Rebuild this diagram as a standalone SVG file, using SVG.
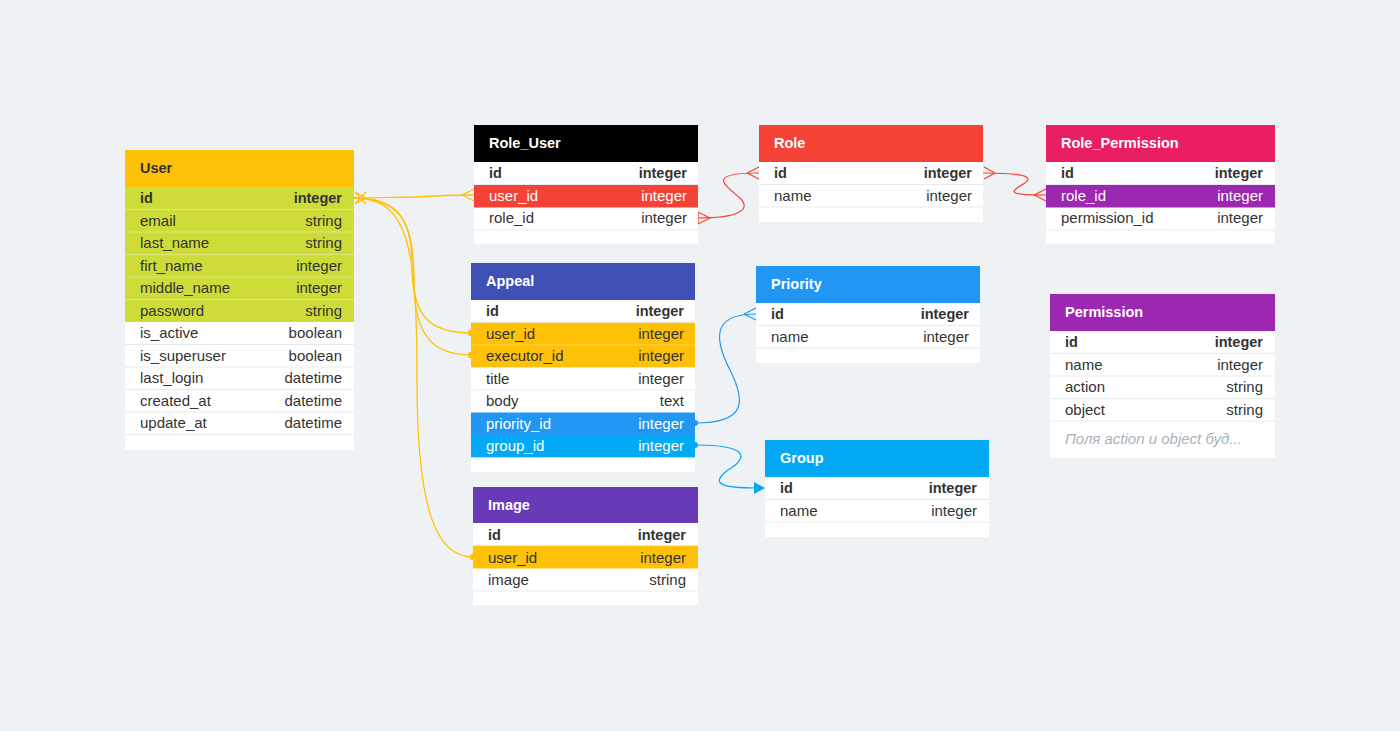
<svg xmlns="http://www.w3.org/2000/svg" width="1400" height="731" viewBox="0 0 1400 731">
<style>
text{font-family:"Liberation Sans",Arial,sans-serif;font-size:15px;fill:#333}
.t{font-weight:bold;fill:#fff;font-size:14.5px}
.b{font-weight:bold;font-size:14.5px}
.r{text-anchor:end}
.w{fill:#fff}
.sep{stroke:#e8ebee;stroke-width:1}
.note{font-style:italic;fill:#aab2bb}
.cy{fill:none;stroke:#FFC107;stroke-width:1.3}
.cr{fill:none;stroke:#F44336;stroke-width:1.2}
.cb{fill:none;stroke:#2196F3;stroke-width:1.2}
.cl{fill:none;stroke:#03A9F4;stroke-width:1.2}
</style>
<rect width="1400" height="731" fill="#eef2f5"/>

<g id="connectors">
  <path class="cy" d="M354,198 C380,198 400,197 414,197 C430,196 450,195 474,195"/>
  <path class="cy" d="M462,195 L474,189 M462,195 L474,201"/>
  <path class="cy" d="M354,198 C402,198 412,225 412,265 C412,315 428,333 471,333"/>
  <circle cx="471" cy="333" r="3.2" fill="#FFC107"/>
  <path class="cy" d="M354,198 C405,198 414,228 414,280 C414,335 432,355 471,355"/>
  <circle cx="471" cy="355" r="3.2" fill="#FFC107"/>
  <path class="cy" d="M354,198 C408,198 417,245 417,380 C417,515 438,557 473,557"/>
  <circle cx="473" cy="557" r="3.2" fill="#FFC107"/>
  <path class="cy" d="M366,198 L355,192 M366,198 L355,204 M355,192 L366,204 M355,204 L366,192"/>

  <path class="cr" d="M698,218 C738,218 752,210 740,198 C725,185 705,173 759,173"/>
  <path class="cr" d="M710,218 L698,212 M710,218 L698,224 M698,212 L698,224"/>
  <path class="cr" d="M747,173 L759,167 M747,173 L759,179"/>
  <path class="cr" d="M983,173 C1020,173 1035,176 1025,183 C1010,192 1005,195 1046,195"/>
  <path class="cr" d="M995,173 L984,167 M995,173 L984,179"/>
  <path class="cr" d="M1034,195 L1046,189 M1034,195 L1046,201"/>

  <path class="cb" d="M695,423 C748,423 745,400 730,370 C712,335 715,314 756,314"/>
  <circle cx="695" cy="423" r="3" fill="#2196F3"/>
  <path class="cb" d="M744,314 L756,308 M744,314 L756,320"/>
  <path class="cl" d="M695,445 C750,445 748,458 728,470 C708,485 725,488 756,488"/>
  <circle cx="695" cy="445" r="3" fill="#03A9F4"/>
  <path d="M754,482 L765,488 L754,494 Z" fill="#03A9F4"/>
</g>

<g id="user">
  <rect x="125" y="150" width="229" height="300" fill="#fff"/>
  <rect x="125" y="150" width="229" height="37" fill="#FFC107"/>
  <rect x="125" y="187" width="229" height="135" fill="#CDDC39"/>
  <g class="sep">
    <line x1="125" y1="209.5" x2="354" y2="209.5" stroke="#dde77a"/>
    <line x1="125" y1="232" x2="354" y2="232" stroke="#dde77a"/>
    <line x1="125" y1="254.5" x2="354" y2="254.5" stroke="#dde77a"/>
    <line x1="125" y1="277" x2="354" y2="277" stroke="#dde77a"/>
    <line x1="125" y1="299.5" x2="354" y2="299.5" stroke="#dde77a"/>
    <line x1="125" y1="344.5" x2="354" y2="344.5"/>
    <line x1="125" y1="367" x2="354" y2="367"/>
    <line x1="125" y1="389.5" x2="354" y2="389.5"/>
    <line x1="125" y1="412" x2="354" y2="412"/>
    <line x1="125" y1="434.5" x2="354" y2="434.5"/>
  </g>
  <text x="140" y="173" class="b">User</text>
  <text x="140" y="203" class="b">id</text><text x="342" y="203" class="b r">integer</text>
  <text x="140" y="225.5">email</text><text x="342" y="225.5" class="r">string</text>
  <text x="140" y="248">last_name</text><text x="342" y="248" class="r">string</text>
  <text x="140" y="270.5">firt_name</text><text x="342" y="270.5" class="r">integer</text>
  <text x="140" y="293">middle_name</text><text x="342" y="293" class="r">integer</text>
  <text x="140" y="315.5">password</text><text x="342" y="315.5" class="r">string</text>
  <text x="140" y="338">is_active</text><text x="342" y="338" class="r">boolean</text>
  <text x="140" y="360.5">is_superuser</text><text x="342" y="360.5" class="r">boolean</text>
  <text x="140" y="383">last_login</text><text x="342" y="383" class="r">datetime</text>
  <text x="140" y="405.5">created_at</text><text x="342" y="405.5" class="r">datetime</text>
  <text x="140" y="428">update_at</text><text x="342" y="428" class="r">datetime</text>
</g>

<g id="role_user">
  <rect x="474" y="125" width="224" height="119" fill="#fff"/>
  <rect x="474" y="125" width="224" height="37" fill="#000"/>
  <rect x="474" y="185" width="224" height="22.5" fill="#F44336"/>
  <g class="sep">
    <line x1="474" y1="184.5" x2="698" y2="184.5"/>
    <line x1="474" y1="230" x2="698" y2="230"/>
  </g>
  <text x="489" y="148" class="t">Role_User</text>
  <text x="489" y="178" class="b">id</text><text x="687" y="178" class="b r">integer</text>
  <text x="489" y="200.5" class="w">user_id</text><text x="687" y="200.5" class="r w">integer</text>
  <text x="489" y="223">role_id</text><text x="687" y="223" class="r">integer</text>
</g>

<g id="role">
  <rect x="759" y="125" width="224" height="97" fill="#fff"/>
  <rect x="759" y="125" width="224" height="37" fill="#F44336"/>
  <g class="sep">
    <line x1="759" y1="184.5" x2="983" y2="184.5"/>
    <line x1="759" y1="207" x2="983" y2="207"/>
  </g>
  <text x="774" y="148" class="t">Role</text>
  <text x="774" y="178" class="b">id</text><text x="972" y="178" class="b r">integer</text>
  <text x="774" y="200.5">name</text><text x="972" y="200.5" class="r">integer</text>
</g>

<g id="role_permission">
  <rect x="1046" y="125" width="229" height="119" fill="#fff"/>
  <rect x="1046" y="125" width="229" height="37" fill="#E91E63"/>
  <rect x="1046" y="185" width="229" height="22.5" fill="#9C27B0"/>
  <g class="sep">
    <line x1="1046" y1="184.5" x2="1275" y2="184.5"/>
    <line x1="1046" y1="230" x2="1275" y2="230"/>
  </g>
  <text x="1061" y="148" class="t">Role_Permission</text>
  <text x="1061" y="178" class="b">id</text><text x="1263" y="178" class="b r">integer</text>
  <text x="1061" y="200.5" class="w">role_id</text><text x="1263" y="200.5" class="r w">integer</text>
  <text x="1061" y="223">permission_id</text><text x="1263" y="223" class="r">integer</text>
</g>

<g id="appeal">
  <rect x="471" y="263" width="224" height="209" fill="#fff"/>
  <rect x="471" y="263" width="224" height="37" fill="#3F51B5"/>
  <rect x="471" y="322.5" width="224" height="45" fill="#FFC107"/>
  <rect x="471" y="412.5" width="224" height="22.5" fill="#2196F3"/>
  <rect x="471" y="435" width="224" height="22.5" fill="#03A9F4"/>
  <g class="sep">
    <line x1="471" y1="322" x2="695" y2="322"/>
    <line x1="471" y1="345" x2="695" y2="345" stroke="#ffd54f"/>
    <line x1="471" y1="367.5" x2="695" y2="367.5"/>
    <line x1="471" y1="390" x2="695" y2="390"/>
    <line x1="471" y1="458" x2="695" y2="458"/>
  </g>
  <text x="486" y="286" class="t">Appeal</text>
  <text x="486" y="316" class="b">id</text><text x="684" y="316" class="b r">integer</text>
  <text x="486" y="338.5">user_id</text><text x="684" y="338.5" class="r">integer</text>
  <text x="486" y="361">executor_id</text><text x="684" y="361" class="r">integer</text>
  <text x="486" y="383.5">title</text><text x="684" y="383.5" class="r">integer</text>
  <text x="486" y="406">body</text><text x="684" y="406" class="r">text</text>
  <text x="486" y="428.5" class="w">priority_id</text><text x="684" y="428.5" class="r w">integer</text>
  <text x="486" y="451" class="w">group_id</text><text x="684" y="451" class="r w">integer</text>
</g>

<g id="priority">
  <rect x="756" y="266" width="224" height="97" fill="#fff"/>
  <rect x="756" y="266" width="224" height="37" fill="#2196F3"/>
  <g class="sep">
    <line x1="756" y1="325.5" x2="980" y2="325.5"/>
    <line x1="756" y1="348" x2="980" y2="348"/>
  </g>
  <text x="771" y="289" class="t">Priority</text>
  <text x="771" y="319" class="b">id</text><text x="969" y="319" class="b r">integer</text>
  <text x="771" y="341.5">name</text><text x="969" y="341.5" class="r">integer</text>
</g>

<g id="permission">
  <rect x="1050" y="294" width="225" height="164" fill="#fff"/>
  <rect x="1050" y="294" width="225" height="37" fill="#9C27B0"/>
  <g class="sep">
    <line x1="1050" y1="353.5" x2="1275" y2="353.5"/>
    <line x1="1050" y1="376" x2="1275" y2="376"/>
    <line x1="1050" y1="398.5" x2="1275" y2="398.5"/>
    <line x1="1050" y1="421" x2="1275" y2="421"/>
  </g>
  <text x="1065" y="317" class="t">Permission</text>
  <text x="1065" y="347" class="b">id</text><text x="1263" y="347" class="b r">integer</text>
  <text x="1065" y="369.5">name</text><text x="1263" y="369.5" class="r">integer</text>
  <text x="1065" y="392">action</text><text x="1263" y="392" class="r">string</text>
  <text x="1065" y="414.5">object</text><text x="1263" y="414.5" class="r">string</text>
  <text x="1065" y="444" class="note">Поля action и object буд...</text>
</g>

<g id="group">
  <rect x="765" y="440" width="224" height="97" fill="#fff"/>
  <rect x="765" y="440" width="224" height="37" fill="#03A9F4"/>
  <g class="sep">
    <line x1="765" y1="499.5" x2="989" y2="499.5"/>
    <line x1="765" y1="522" x2="989" y2="522"/>
  </g>
  <text x="780" y="463" class="t">Group</text>
  <text x="780" y="493" class="b">id</text><text x="977" y="493" class="b r">integer</text>
  <text x="780" y="515.5">name</text><text x="977" y="515.5" class="r">integer</text>
</g>

<g id="image">
  <rect x="473" y="487" width="225" height="118" fill="#fff"/>
  <rect x="473" y="487" width="225" height="36" fill="#673AB7"/>
  <rect x="473" y="546" width="225" height="22.5" fill="#FFC107"/>
  <g class="sep">
    <line x1="473" y1="545.5" x2="698" y2="545.5"/>
    <line x1="473" y1="591" x2="698" y2="591"/>
  </g>
  <text x="488" y="510" class="t">Image</text>
  <text x="488" y="540" class="b">id</text><text x="686" y="540" class="b r">integer</text>
  <text x="488" y="562.5">user_id</text><text x="686" y="562.5" class="r">integer</text>
  <text x="488" y="585">image</text><text x="686" y="585" class="r">string</text>
</g>
</svg>
